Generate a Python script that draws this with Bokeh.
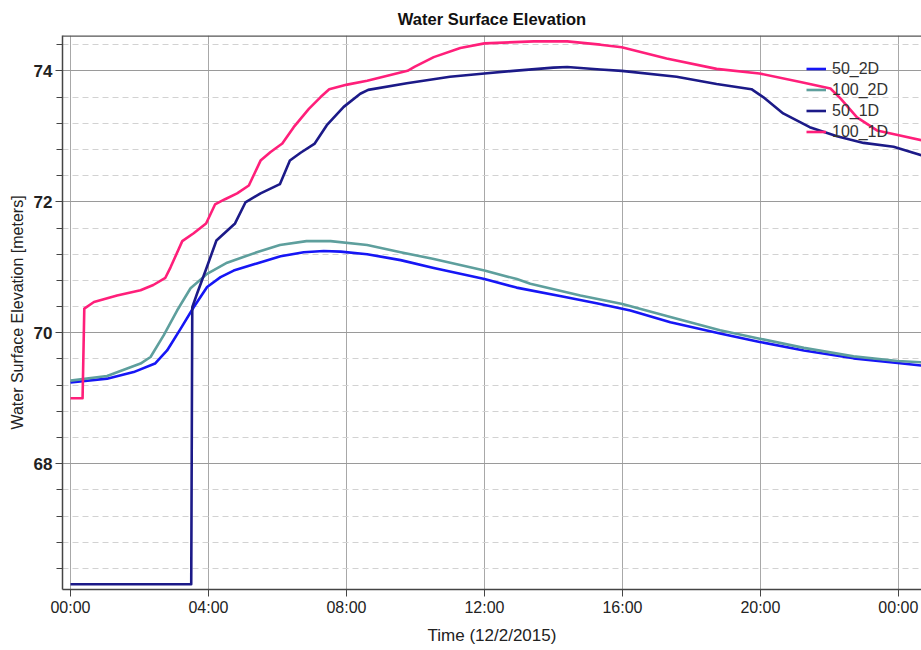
from bokeh.plotting import figure
from bokeh.models import (SingleIntervalTicker, FixedTicker, Range1d, Span,
                          Legend, LegendItem)
from bokeh.embed import file_html
from bokeh.resources import INLINE

TITLE = "Water Surface Elevation"
X_LABEL = "Time (12/2/2015)"
Y_LABEL = "Water Surface Elevation [meters]"
SERIES_NAMES = ["50_2D", "100_2D", "50_1D", "100_1D"]
TICK_HOURS = [0, 4, 8, 12, 16, 20, 24]
TICK_LABELS = ["00:00", "04:00", "08:00", "12:00", "16:00", "20:00", "00:00"]

# time in hours after 00:00 on 12/2/2015, water surface elevation in meters
t_50_2d = [0.0, 1.06, 1.83, 2.45, 2.8, 3.19, 3.57, 3.96, 4.35, 4.73, 5.4, 6.09, 6.76,
           7.34, 7.83, 8.6, 9.57, 10.53, 11.5, 12.0, 12.93, 14.3, 15.25, 16.23, 17.39,
           18.83, 19.98, 21.26, 22.7, 23.98, 24.67]
v_50_2d = [69.24, 69.30, 69.40, 69.53, 69.73, 70.06, 70.39, 70.70, 70.85, 70.95, 71.06,
           71.17, 71.23, 71.25, 71.24, 71.20, 71.11, 70.99, 70.88, 70.82, 70.69, 70.55,
           70.45, 70.34, 70.16, 69.99, 69.86, 69.73, 69.61, 69.54, 69.50]

t_100_2d = [0.0, 1.06, 2.03, 2.32, 2.7, 3.09, 3.48, 3.96, 4.54, 5.4, 6.07, 6.84, 7.54,
            8.6, 9.57, 10.5, 12.0, 12.94, 13.33, 14.78, 16.0, 17.39, 18.83, 19.98,
            21.26, 22.7, 23.98, 24.67]
v_100_2d = [69.27, 69.34, 69.53, 69.63, 69.96, 70.34, 70.68, 70.90, 71.07, 71.23, 71.34,
            71.40, 71.40, 71.34, 71.23, 71.13, 70.95, 70.82, 70.75, 70.57, 70.44, 70.24,
            70.04, 69.91, 69.77, 69.64, 69.57, 69.55]

t_50_1d = [0.0, 3.5, 3.53, 3.67, 3.93, 4.23, 4.77, 5.07, 5.51, 6.07, 6.36, 6.67, 7.08,
           7.43, 7.92, 8.4, 8.63, 9.75, 11.0, 12.0, 12.84, 14.0, 14.4, 15.36, 15.98,
           17.57, 18.73, 19.74, 20.08, 20.66, 21.43, 22.22, 22.99, 23.86, 24.67]
v_50_1d = [66.16, 66.16, 70.39, 70.60, 70.97, 71.41, 71.67, 71.99, 72.13, 72.27, 72.63,
           72.75, 72.89, 73.17, 73.45, 73.65, 73.71, 73.81, 73.91, 73.96, 74.0, 74.05,
           74.06, 74.02, 74.0, 73.91, 73.80, 73.72, 73.60, 73.35, 73.14, 73.00, 72.90,
           72.84, 72.71]

t_100_1d = [0.0, 0.35, 0.40, 0.68, 1.35, 2.03, 2.4, 2.75, 2.9, 3.24, 3.57, 3.93, 4.19,
            4.48, 4.83, 5.17, 5.51, 5.8, 6.14, 6.47, 6.91, 7.25, 7.5, 8.02, 8.6, 9.77,
            9.97, 10.53, 11.3, 12.0, 13.43, 14.4, 15.36, 15.98, 17.28, 18.73, 19.97,
            21.16, 22.03, 22.32, 22.8, 23.38, 23.98, 24.67]
v_100_1d = [69.0, 69.0, 70.37, 70.47, 70.57, 70.65, 70.73, 70.84, 71.0, 71.40, 71.52,
            71.67, 71.96, 72.04, 72.13, 72.25, 72.63, 72.76, 72.89, 73.14, 73.42, 73.60,
            73.72, 73.79, 73.85, 74.0, 74.06, 74.21, 74.35, 74.42, 74.45, 74.45, 74.40,
            74.36, 74.19, 74.03, 73.96, 73.83, 73.73, 73.58, 73.29, 73.09, 73.02, 72.94]

COLORS = ["#1616f5", "#5e9f9d", "#1c1a88", "#ff1f7a"]
FONT = "Liberation Sans"

p = figure(width=921, height=650, output_backend="svg", toolbar_location=None,
           x_range=Range1d(-0.232, 24.67), y_range=Range1d(66.08, 74.54),
           min_border_left=62, min_border_right=0, min_border_top=35,
           min_border_bottom=61, background_fill_color="white",
           border_fill_color="white", outline_line_color=None)

p.title.text = TITLE
p.title.align = "center"
p.title.text_font = FONT
p.title.text_font_size = "16.5px"
p.title.text_font_style = "bold"
p.title.text_color = "#111111"
p.title.offset = 6
p.title.standoff = 15

series = [(t_50_2d, v_50_2d), (t_100_2d, v_100_2d), (t_50_1d, v_50_1d), (t_100_1d, v_100_1d)]
renderers = []
for (t, v), c in zip(series, COLORS):
    renderers.append(p.line(t, v, line_color=c, line_width=2.6, line_join="round"))

# axes
xa = p.xaxis[0]
xa.ticker = FixedTicker(ticks=TICK_HOURS)
xa.major_label_overrides = {h: lab for h, lab in zip(TICK_HOURS, TICK_LABELS)}
xa.axis_label = X_LABEL
ya = p.yaxis[0]
ya.ticker = SingleIntervalTicker(interval=2, num_minor_ticks=5)
ya.axis_label = Y_LABEL
for ax in (xa, ya):
    ax.axis_line_color = "#444444"
    ax.axis_line_width = 1.5
    ax.major_tick_line_color = "#444444"
    ax.minor_tick_line_color = "#444444"
    ax.major_tick_in = 0
    ax.major_tick_out = 7
    ax.minor_tick_in = 0
    ax.minor_tick_out = 6
    ax.major_label_text_font = FONT
    ax.major_label_text_color = "#222222"
    ax.axis_label_text_font = FONT
    ax.axis_label_text_font_style = "normal"
    ax.axis_label_text_color = "#222222"
xa.minor_tick_line_color = None
xa.major_label_text_font_size = "16px"
xa.major_label_standoff = 2
xa.axis_label_text_font_size = "17px"
xa.axis_label_standoff = 7
ya.major_label_text_font_size = "17px"
ya.major_label_text_font_style = "bold"
ya.major_label_standoff = 3
ya.axis_label_text_font_size = "16px"
ya.axis_label_standoff = 5

# top border of the plot frame
p.add_layout(Span(location=p.y_range.end, dimension="width",
                  line_color="#555555", line_width=2.5))

# grids
p.xgrid.ticker = FixedTicker(ticks=TICK_HOURS)
p.xgrid.grid_line_color = "#a8a8a8"
p.xgrid.grid_line_width = 1
p.ygrid.grid_line_color = "#9a9a9a"
p.ygrid.grid_line_width = 1
p.ygrid.minor_grid_line_color = "#d2d2d2"
p.ygrid.minor_grid_line_dash = "6 4"
p.ygrid.minor_grid_line_width = 1

legend = Legend(items=[LegendItem(label=n, renderers=[r]) for n, r in zip(SERIES_NAMES, renderers)],
                location=(744, 447), margin=0, padding=0, spacing=0,
                glyph_width=20, glyph_height=21, label_height=21, label_standoff=6,
                label_text_font=FONT, label_text_font_size="16px",
                label_text_color="#333333", background_fill_alpha=0,
                border_line_alpha=0)
p.add_layout(legend)

open("out.html", "w").write(file_html(p, INLINE))
